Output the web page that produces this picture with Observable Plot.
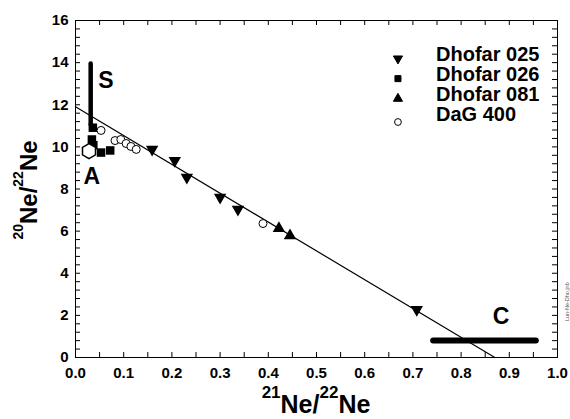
<!DOCTYPE html>
<html><head><meta charset="utf-8">
<script src="https://cdn.jsdelivr.net/npm/d3@7"></script>
<script src="https://cdn.jsdelivr.net/npm/@observablehq/plot@0.6"></script>
<style>
body{margin:0;background:#fff}
#chart svg{font-family:"Liberation Sans",Arial,sans-serif;display:block}
</style>
</head><body><div id="chart"></div>
<script>
// ---- data ----
const dhofar025X = [0.159, 0.206, 0.231, 0.300, 0.337, 0.708];
const dhofar025Y = [9.88, 9.35, 8.55, 7.60, 7.03, 2.28];
const dhofar026X = [0.036, 0.034, 0.037, 0.053, 0.072];
const dhofar026Y = [10.91, 10.35, 10.08, 9.73, 9.83];
const dhofar081X = [0.422, 0.445];
const dhofar081Y = [6.13, 5.79];
const dag400X = [0.053, 0.082, 0.094, 0.105, 0.115, 0.126, 0.389];
const dag400Y = [10.78, 10.30, 10.35, 10.16, 10.02, 9.88, 6.36];
// end members
const endAX = [0.028], endAY = [9.80];
const segSX = [0.0315, 0.0315], segSY = [11.05, 13.96];
const segCX = [0.742, 0.955], segCY = [0.81, 0.81];
// mixing line end points
const fitX = [0.0, 0.870], fitY = [11.90, 0.0];
// annotation labels
const annoText = ["S", "A", "C"];
const annoX = [0.063, 0.034, 0.883];
const annoY = [13.15, 8.60, 1.95];
// legend
const legendLabels = ["Dhofar 025", "Dhofar 026", "Dhofar 081", "DaG 400"];
const legendSymbols = ["triangle", "square", "triangle", "circle"];
const legendRotate = [180, 0, 0, 0];
const legendFill = ["black", "black", "black", "white"];
// ticks
const xMajor = [0, 0.1, 0.2, 0.3, 0.4, 0.5, 0.6, 0.7, 0.8, 0.9, 1.0];
const yMajor = [0, 2, 4, 6, 8, 10, 12, 14, 16];

const pts = (xs, ys) => xs.map((x, i) => ({x, y: ys[i]}));
const xMinor = d3.range(0, 21).map(i => i * 0.05);
const yMinor = d3.range(0, 41).map(i => i * 0.4);

const xDomain = [0, 1], yDomain = [0, 16];
const legendTop = 14.39, legendStep = 0.95;
const legendRows = legendLabels.map((label, i) => ({
  label, symbol: legendSymbols[i], rotate: legendRotate[i], fill: legendFill[i],
  ty: legendTop - i * legendStep,
  sy: legendTop - i * legendStep - (legendSymbols[i] === "circle" ? 0.36 : 0.2)
}));
const legendSymX = 0.669, legendTextX = 0.748;

const W = 570, H = 419, mL = 75, mR = 13, mT = 20, mB = 62;
// inward tick length (5px) expressed in data units
const tx = 5 * (xDomain[1] - xDomain[0]) / (W - mL - mR);
const ty = 5 * (yDomain[1] - yDomain[0]) / (H - mT - mB);

const bold = {fontWeight: "bold", fill: "black"};

const chart = Plot.plot({
  width: W, height: H,
  marginLeft: mL, marginRight: mR, marginTop: mT, marginBottom: mB,
  x: {domain: xDomain},
  y: {domain: yDomain},
  style: {fontFamily: "Liberation Sans, Arial, sans-serif", background: "white", color: "black", overflow: "visible"},
  marks: [
    // inward ticks on all four sides
    Plot.ruleX(xMinor, {x: d => d, y1: yDomain[0], y2: yDomain[0] + ty, stroke: "black"}),
    Plot.ruleX(xMinor, {x: d => d, y1: yDomain[1] - ty, y2: yDomain[1], stroke: "black"}),
    Plot.ruleY(yMinor, {y: d => d, x1: xDomain[0], x2: xDomain[0] + tx, stroke: "black"}),
    Plot.ruleY(yMinor, {y: d => d, x1: xDomain[1] - tx, x2: xDomain[1], stroke: "black"}),
    // tick labels
    Plot.axisX(xMajor, {anchor: "bottom", tickSize: 0, tickPadding: 10, tickFormat: d3.format(".1f"), fontSize: 15, fontWeight: "bold", label: null}),
    Plot.axisY(yMajor, {anchor: "left", tickSize: 0, tickPadding: 7, tickFormat: d3.format("d"), fontSize: 15, fontWeight: "bold", label: null}),
    Plot.frame({stroke: "black", strokeWidth: 1}),
    // mixing line
    Plot.line(pts(fitX, fitY), {x: "x", y: "y", stroke: "black", strokeWidth: 1.2}),
    // end-member S and C
    Plot.line(pts(segSX, segSY), {x: "x", y: "y", stroke: "black", strokeWidth: 4.5}),
    Plot.line(pts(segCX, segCY), {x: "x", y: "y", stroke: "black", strokeWidth: 6}),
    // data
    Plot.dot(pts(dhofar026X, dhofar026Y), {x: "x", y: "y", symbol: "square", r: 4.8, fill: "black", stroke: null}),
    Plot.dot(pts(dag400X, dag400Y), {x: "x", y: "y", symbol: "circle", r: 4, fill: "white", stroke: "black", strokeWidth: 1}),
    Plot.dot(pts(dhofar025X, dhofar025Y), {x: "x", y: "y", symbol: "triangle", rotate: 180, r: 4.6, fill: "black", stroke: null}),
    Plot.dot(pts(dhofar081X, dhofar081Y), {x: "x", y: "y", symbol: "triangle", r: 4.6, fill: "black", stroke: null}),
    Plot.dot(pts(endAX, endAY), {x: "x", y: "y", symbol: "hexagon", r: 6.5, fill: "white", stroke: "black", strokeWidth: 1.5}),
    // annotations
    Plot.text(annoText.map((t, i) => ({t, x: annoX[i], y: annoY[i]})), {x: "x", y: "y", text: "t", fontSize: 23, ...bold}),
    // legend
    Plot.dot(legendRows, {x: () => legendSymX, y: "sy", symbol: "symbol", rotate: "rotate", fill: "fill", stroke: "black", strokeWidth: 1, r: 3.4}),
    Plot.text(legendRows, {x: () => legendTextX, y: "ty", text: "label", textAnchor: "start", fontSize: 20, ...bold}),
    // file tag
    Plot.text(["Lun-Ne-Dho.jnb"], {x: () => 1.021, y: () => 2.65, text: d => d, rotate: -90, fontSize: 5.5, fill: "#555", clip: false})
  ]
});

const svg = d3.select(chart);
// axis titles with superscripts
const xt = svg.append("text").attr("x", 316).attr("y", 413).attr("text-anchor", "middle")
  .attr("font-weight", "bold").attr("fill", "black");
xt.append("tspan").attr("font-size", 17).attr("dy", -15).text("21");
xt.append("tspan").attr("font-size", 25).attr("dy", 15).text("Ne/");
xt.append("tspan").attr("font-size", 17).attr("dy", -15).text("22");
xt.append("tspan").attr("font-size", 25).attr("dy", 15).text("Ne");

const yt = svg.append("text").attr("transform", "translate(37,190) rotate(-90)").attr("text-anchor", "middle")
  .attr("font-weight", "bold").attr("fill", "black");
yt.append("tspan").attr("font-size", 14).attr("dy", -14).text("20");
yt.append("tspan").attr("font-size", 24).attr("dy", 14).text("Ne/");
yt.append("tspan").attr("font-size", 14).attr("dy", -14).text("22");
yt.append("tspan").attr("font-size", 24).attr("dy", 14).text("Ne");

document.getElementById("chart").appendChild(chart);
</script>
</body></html>
